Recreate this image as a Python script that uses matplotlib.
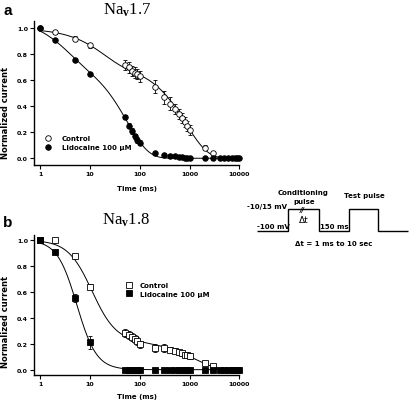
import numpy as np
import matplotlib
matplotlib.use('Agg')
import matplotlib.pyplot as plt
from matplotlib.lines import Line2D
from matplotlib.ticker import FixedLocator, NullLocator

plt.rcParams['font.family'] = 'DejaVu Sans'
plt.rcParams['font.weight'] = 'bold'
plt.rcParams['mathtext.fontset'] = 'custom'
plt.rcParams['mathtext.rm'] = 'Liberation Serif'
plt.rcParams['mathtext.it'] = 'Liberation Serif:italic'

# ---- Nav1.7 (panel a) ----
t_ctrl_a = [1, 2, 5, 10, 50, 60, 70, 80, 90, 100, 200, 300, 400, 500, 600, 700, 800, 900, 1000, 2000, 3000]
ctrl_a = [1.0, 0.97, 0.92, 0.87, 0.72, 0.70, 0.67, 0.66, 0.65, 0.63, 0.55, 0.47, 0.42, 0.38, 0.34, 0.31, 0.28, 0.25, 0.22, 0.08, 0.04]
ctrl_a_err = [0, 0.01, 0.02, 0.02, 0.04, 0.04, 0.04, 0.04, 0.04, 0.04, 0.05, 0.05, 0.05, 0.04, 0.04, 0.04, 0.04, 0.04, 0.04, 0.02, 0.01]

t_lido_a = [1, 2, 5, 10, 50, 60, 70, 80, 90, 100, 200, 300, 400, 500, 600, 700, 800, 900, 1000,
            2000, 3000, 4000, 5000, 6000, 7000, 8000, 9000, 10000]
lido_a = [1.0, 0.91, 0.76, 0.65, 0.32, 0.25, 0.21, 0.17, 0.14, 0.12, 0.04, 0.025, 0.02, 0.015, 0.01, 0.01, 0.005, 0.005, 0.0,
          0.0, 0.0, 0.0, 0.0, 0.0, 0.0, 0.0, 0.0, 0.0]
lido_a_err = [0, 0.01, 0.01, 0.01, 0.01, 0.02, 0.02, 0.02, 0.02, 0.02, 0.01, 0.01, 0, 0, 0, 0, 0, 0, 0,
              0, 0, 0, 0, 0, 0, 0, 0, 0]

# ---- Nav1.8 (panel b) ----
t_ctrl_b = [1, 2, 5, 10, 50, 60, 70, 80, 90, 100, 200, 300, 400, 500, 600, 700, 800, 900, 1000, 2000, 3000]
ctrl_b = [1.0, 1.0, 0.88, 0.64, 0.28, 0.265, 0.25, 0.235, 0.22, 0.195, 0.17, 0.165, 0.155, 0.145, 0.135, 0.125, 0.115, 0.11, 0.105, 0.05, 0.03]
ctrl_b_err = [0, 0, 0.01, 0.02, 0.03, 0.03, 0.03, 0.03, 0.03, 0.03, 0.03, 0.03, 0.02, 0.02, 0.02, 0.02, 0.02, 0.02, 0.02, 0.01, 0.01]

t_lido_b = [1, 2, 5, 10, 50, 60, 70, 80, 90, 100, 200, 300, 400, 500, 600, 700, 800, 900, 1000,
            2000, 3000, 4000, 5000, 6000, 7000, 8000, 9000, 10000]
lido_b = [1.0, 0.91, 0.55, 0.21] + [0.0] * 24
lido_b_err = [0, 0.01, 0.03, 0.05] + [0.0] * 24

# fitted curve parameters
fit_ctrl_a = (0.28, 17.8, 0.72, 850.0)   # fast amp, tau, slow amp, tau
fit_lido_a = (0.30, 3.0, 0.78, 55.0)
fit_ctrl_b = (0.78, 11.0, 1.8, 0.22, 1300.0)  # hill amp, t50, n, slow amp, tau
fit_lido_b = (1.0, 5.48, 2.2, 0.0, 1.0)

# voltage protocol schematic (relative units)
step_edges = [0, 31.5, 62.5, 92.5, 121.5, 151.5]
step_levels = [0, 1, 0, 1, 0]

W, H = 412, 406


def box(l, t, r, b):
    return [l / W, 1 - b / H, (r - l) / W, (b - t) / H]


def biexp(t, a1, t1, a2, t2):
    return a1 * np.exp(-t / t1) + a2 * np.exp(-t / t2)


def hill_exp(t, a1, t50, n, a2, t2):
    return a1 / (1 + (t / t50) ** n) + a2 * np.exp(-t / t2)


tt = np.logspace(0, 4, 500)

fig = plt.figure(figsize=(W / 100, H / 100), dpi=100)


def style_axes(ax, ylim):
    ax.set_xscale('log')
    ax.set_xlim(0.768, 10000)
    ax.set_ylim(*ylim)
    for s in ['top', 'right']:
        ax.spines[s].set_visible(False)
    for s in ['left', 'bottom']:
        ax.spines[s].set_linewidth(1.0)
    ax.xaxis.set_major_locator(FixedLocator([1, 10, 100, 1000, 10000]))
    ax.xaxis.set_minor_locator(NullLocator())
    ax.set_xticklabels(['1', '10', '100', '1000', '10000'])
    ax.set_yticks([0.0, 0.2, 0.4, 0.6, 0.8, 1.0])
    ax.set_yticklabels(['0.0', '0.2', '0.4', '0.6', '0.8', '1.0'])
    ax.tick_params(direction='out', length=3, width=0.8, labelsize=4.5, pad=1.5)
    ax.patch.set_alpha(0)


def panel(ax, t_c, y_c, e_c, t_l, y_l, e_l, fc, fl, fitfun, marker, ms):
    ax.plot(tt, fitfun(tt, *fc), color='black', lw=0.7, zorder=2)
    ax.plot(tt, fitfun(tt, *fl), color='black', lw=0.7, zorder=2)
    ax.errorbar(t_c, y_c, yerr=e_c, fmt='none', ecolor='black', elinewidth=0.6, capsize=1.5, capthick=0.6, zorder=3)
    ax.errorbar(t_l, y_l, yerr=e_l, fmt='none', ecolor='black', elinewidth=0.6, capsize=1.5, capthick=0.6, zorder=3)
    ax.plot(t_c, y_c, ls='none', marker=marker, ms=ms, mfc='white', mec='black', mew=0.6, zorder=4, clip_on=False)
    ax.plot(t_l, y_l, ls='none', marker=marker, ms=ms, mfc='black', mec='black', mew=0.6, zorder=5, clip_on=False)


# panel a
ax1 = fig.add_axes(box(34.3, 21.7, 239.5, 166))
style_axes(ax1, (-0.052, 1.06))
panel(ax1, t_ctrl_a, ctrl_a, ctrl_a_err, t_lido_a, lido_a, lido_a_err, fit_ctrl_a, fit_lido_a, biexp, 'o', 4.0)
h_a = [Line2D([], [], ls='none', marker='o', ms=4.0, mfc='white', mec='black', mew=0.6),
       Line2D([], [], ls='none', marker='o', ms=4.0, mfc='black', mec='black', mew=0.6)]
ax1.legend(h_a, ['Control', 'Lidocaine 100 \u03bcM'], loc='upper left', bbox_to_anchor=(44.2 / W, 1 - 136 / H),
           bbox_transform=fig.transFigure, frameon=False, fontsize=5, borderpad=0, borderaxespad=0,
           handlelength=1.0, handletextpad=1.5, labelspacing=0.45)

# panel b
ax2 = fig.add_axes(box(34.3, 236, 239.5, 376))
style_axes(ax2, (-0.041, 1.039))
panel(ax2, t_ctrl_b, ctrl_b, ctrl_b_err, t_lido_b, lido_b, lido_b_err, fit_ctrl_b, fit_lido_b, hill_exp, 's', 4.8)
h_b = [Line2D([], [], ls='none', marker='s', ms=4.6, mfc='white', mec='black', mew=0.6),
       Line2D([], [], ls='none', marker='s', ms=4.6, mfc='black', mec='black', mew=0.6)]
ax2.legend(h_b, ['Control', 'Lidocaine 100 \u03bcM'], loc='upper left', bbox_to_anchor=(125.5 / W, 1 - 283 / H),
           bbox_transform=fig.transFigure, frameon=False, fontsize=5, borderpad=0, borderaxespad=0,
           handlelength=1.0, handletextpad=1.1, labelspacing=0.4)

# axis labels and titles
for yc, xl_y in [(113, 189), (322, 396.7)]:
    fig.text(5.5 / W, 1 - yc / H, 'Normalized current', rotation=90, ha='center', va='center', fontsize=6)
    fig.text(137 / W, 1 - xl_y / H, 'Time (ms)', ha='center', va='center', fontsize=5)

fig.text(127 / W, 1 - 15 / H, r'Na$_{\mathrm{v}}$1.7', family='Liberation Serif', weight='normal',
         fontsize=12, ha='center', va='baseline')
fig.text(126 / W, 1 - 225 / H, r'Na$_{\mathrm{v}}$1.8', family='Liberation Serif', weight='normal',
         fontsize=12, ha='center', va='baseline')
fig.text(3 / W, 1 - 15 / H, 'a', family='Liberation Sans', weight='bold', fontsize=11, va='baseline')
fig.text(3 / W, 1 - 227 / H, 'b', family='Liberation Sans', weight='bold', fontsize=11, va='baseline')

# voltage protocol inset
ax3 = fig.add_axes(box(240, 180, 412, 260))
ax3.set_xlim(-16.7, 155.3)
ax3.set_ylim(-1.304, 2.382)
ax3.axis('off')
ax3.stairs(step_levels, step_edges, baseline=None, color='black', lw=1.0)
fs = 5
ax3.text(46.6, 1.80, 'Conditioning', ha='center', va='center', fontsize=fs)
ax3.text(47.3, 1.36, 'pulse', ha='center', va='center', fontsize=fs)
ax3.text(30.3, 1.12, '-10/15 mV', ha='right', va='center', fontsize=fs)
ax3.text(0, 0.06, '-100 mV', ha='left', va='bottom', fontsize=fs)
ax3.text(45, 1.0, '//', ha='center', va='center', fontsize=fs, fontstyle='italic')
ax3.text(47.3, 0.51, '\u0394t', ha='center', va='center', fontsize=6.5, weight='normal')
ax3.text(63.8, 0.06, '150 ms', ha='left', va='bottom', fontsize=fs)
ax3.text(107.3, 1.65, 'Test pulse', ha='center', va='center', fontsize=fs)
ax3.text(76.6, -0.58, '\u0394t = 1 ms to 10 sec', ha='center', va='center', fontsize=fs)

fig.savefig('out.png', dpi=100)
